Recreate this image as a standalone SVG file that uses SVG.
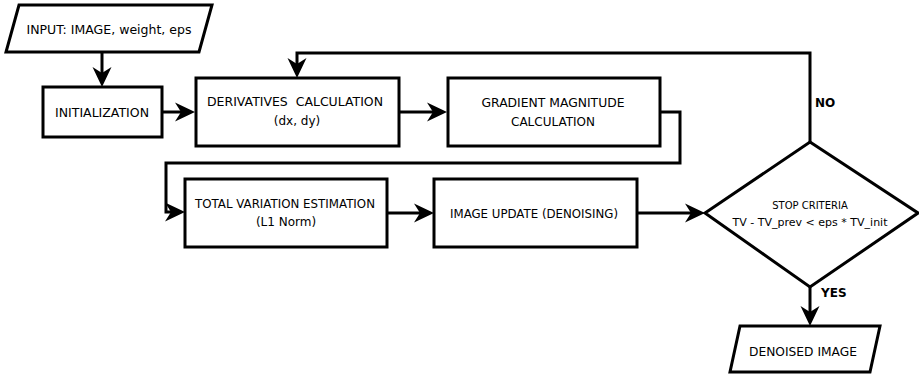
<svg xmlns="http://www.w3.org/2000/svg" width="919" height="377" viewBox="0 0 919 377">
<style>
.shape{fill:#fff;stroke:#000;stroke-width:3}
.conn{fill:none;stroke:#000;stroke-width:3}
text{font-family:"DejaVu Sans",sans-serif;font-size:12px;fill:#000;text-anchor:middle}
.small{font-size:10px}
.lbl{font-weight:bold;text-anchor:start}
</style>
<defs>
<marker id="arr" markerUnits="userSpaceOnUse" viewBox="0 0 20 20" markerWidth="20" markerHeight="20" refX="14" refY="10" orient="auto">
<path d="M0,0.5 L20,10 L0,19.5 L6,10 z" fill="#000"/>
</marker>
</defs>
<rect width="919" height="377" fill="#fff"/>
<g id="connectors">
<path class="conn" d="M102,52 V81" marker-end="url(#arr)"/>
<path class="conn" d="M162,112 H189" marker-end="url(#arr)"/>
<path class="conn" d="M399,112 H441" marker-end="url(#arr)"/>
<path class="conn" d="M660,112 H680 V163 H166 V212 H179" marker-end="url(#arr)"/>
<path class="conn" d="M387,213 H428" marker-end="url(#arr)"/>
<path class="conn" d="M637,213 H699" marker-end="url(#arr)"/>
<path class="conn" d="M810,142 V53 H297 V72" marker-end="url(#arr)"/>
<path class="conn" d="M810,287 V320" marker-end="url(#arr)"/>
<text class="lbl" x="815" y="107">NO</text>
<text class="lbl" x="821" y="297">YES</text>
</g>
<g id="input">
<polygon class="shape" points="19,5 212,5 199,52 6,52"/>
<text x="109" y="34" textLength="165" lengthAdjust="spacingAndGlyphs">INPUT: IMAGE, weight, eps</text>
</g>
<g id="init">
<rect class="shape" x="43" y="87" width="119" height="50"/>
<text x="102" y="117" textLength="94" lengthAdjust="spacingAndGlyphs">INITIALIZATION</text>
</g>
<g id="deriv">
<rect class="shape" x="196" y="78" width="203" height="68"/>
<text x="295" y="106" textLength="176" lengthAdjust="spacingAndGlyphs" xml:space="preserve">DERIVATIVES  CALCULATION</text>
<text x="297" y="125">(dx, dy)</text>
</g>
<g id="grad">
<rect class="shape" x="448" y="78" width="212" height="68"/>
<text x="553" y="107" textLength="143" lengthAdjust="spacingAndGlyphs">GRADIENT MAGNITUDE</text>
<text x="553" y="126">CALCULATION</text>
</g>
<g id="tv">
<rect class="shape" x="185" y="179" width="202" height="68"/>
<text x="285" y="208" textLength="180" lengthAdjust="spacingAndGlyphs">TOTAL VARIATION ESTIMATION</text>
<text x="286" y="226">(L1 Norm)</text>
</g>
<g id="update">
<rect class="shape" x="434" y="179" width="203" height="68"/>
<text x="534" y="218" textLength="168" lengthAdjust="spacingAndGlyphs">IMAGE UPDATE (DENOISING)</text>
</g>
<g id="stop">
<polygon class="shape" points="810,142 918,213 810,287 705,213"/>
<text class="small" x="810" y="209">STOP CRITERIA</text>
<text class="small" x="810" y="226" textLength="155" lengthAdjust="spacingAndGlyphs">TV - TV_prev &lt; eps * TV_init</text>
</g>
<g id="output">
<polygon class="shape" points="740,326 880,326 870,372 730,372"/>
<text x="803" y="356" textLength="108" lengthAdjust="spacingAndGlyphs">DENOISED IMAGE</text>
</g>
</svg>
